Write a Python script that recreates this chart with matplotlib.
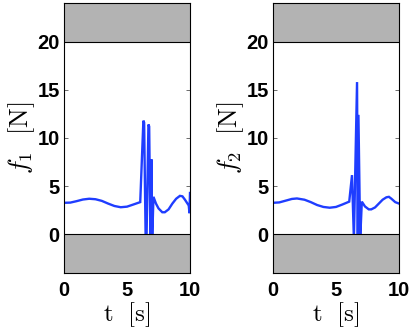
import matplotlib
matplotlib.use("Agg")
import matplotlib.pyplot as plt
from matplotlib.patches import Rectangle

plt.rcParams['mathtext.fontset'] = 'cm'
plt.rcParams['font.family'] = ['Liberation Sans', 'DejaVu Sans']

# ---- data ----
t1 = [0.0, 0.5, 1.0, 1.5, 2.0, 2.5, 3.0, 3.5, 4.0, 4.5, 5.0, 5.5, 6.05,
      6.30, 6.36, 6.48, 6.55, 6.70, 6.76, 6.86, 6.93, 7.00, 7.10,
      7.30, 7.50, 7.80, 8.00, 8.30, 8.60, 8.90, 9.20, 9.40, 9.60, 9.80, 9.90, 9.96, 10.0]
f1 = [3.28, 3.30, 3.45, 3.62, 3.70, 3.65, 3.48, 3.20, 2.95, 2.82, 2.88, 3.10, 3.35,
      11.8, 11.6, -0.5, -0.5, 11.4, 11.2, -0.5, 7.8, -0.5, 3.9,
      3.2, 2.7, 2.3, 2.3, 2.6, 3.2, 3.7, 4.0, 3.95, 3.6, 3.2, 3.0, 2.2, 4.3]

t2 = [0.0, 0.5, 1.0, 1.5, 1.9, 2.5, 3.0, 3.5, 4.0, 4.5, 5.0, 5.5, 6.05,
      6.27, 6.42, 6.67, 6.73, 6.78, 6.92, 7.05,
      7.30, 7.60, 7.80, 8.10, 8.40, 8.70, 9.00, 9.20, 9.40, 9.70, 10.0]
f2 = [3.28, 3.32, 3.50, 3.68, 3.73, 3.60, 3.35, 3.05, 2.85, 2.77, 2.85, 3.10, 3.40,
      6.15, -0.5, 15.8, -0.5, 12.4, -0.5, 3.4,
      2.9, 2.6, 2.6, 2.8, 3.2, 3.6, 3.85, 3.9, 3.7, 3.35, 3.2]

ylabels = [r'$f_1\ \ [\mathrm{N}]$', r'$f_2\ \ [\mathrm{N}]$']
xlabel = r'$\mathrm{t}\ \ [\mathrm{s}]$'
yticks = [0, 5, 10, 15, 20]
xticks = [0, 5, 10]
limit_lo, limit_hi = 0, 20
ymin, ymax = -4, 24
xmin, xmax = 0, 10

fig = plt.figure(figsize=(4.15, 3.33), dpi=100)
lefts = [64 / 415, 273 / 415]
W = 126 / 415
B = 1 - 273 / 333
H = 270 / 333

line_color = '#1f3dff'
gray = '#b3b3b3'

for i, (t, f) in enumerate([(t1, f1), (t2, f2)]):
    ax = fig.add_axes([lefts[i], B, W, H])
    ax.plot(t, f, color=line_color, lw=1.7, zorder=2, solid_joinstyle='miter')
    ax.add_patch(Rectangle((xmin, limit_hi), xmax - xmin, ymax - limit_hi,
                           facecolor=gray, edgecolor='none', zorder=3))
    ax.add_patch(Rectangle((xmin, ymin), xmax - xmin, limit_lo - ymin,
                           facecolor=gray, edgecolor='none', zorder=3))
    ax.axhline(limit_hi, color='black', lw=0.8, zorder=4)
    ax.axhline(limit_lo, color='black', lw=0.8, zorder=4)
    ax.set_xlim(xmin, xmax)
    ax.set_ylim(ymin, ymax)
    ax.set_xticks(xticks)
    ax.set_yticks(yticks)
    ax.tick_params(direction='in', length=3, width=0.6, top=True, right=True,
                   labelsize=14.5, color='#555555')
    ax.tick_params(axis='y', pad=3)
    ax.tick_params(axis='x', pad=6)
    for lab in ax.get_xticklabels() + ax.get_yticklabels():
        lab.set_fontweight('bold')
    for sp in ax.spines.values():
        sp.set_linewidth(0.8)
        sp.set_zorder(5)
    ax.set_ylabel(ylabels[i], fontsize=19, labelpad=0)
    ax.set_xlabel(xlabel, fontsize=18, labelpad=0)

fig.savefig('out.png', dpi=100)
